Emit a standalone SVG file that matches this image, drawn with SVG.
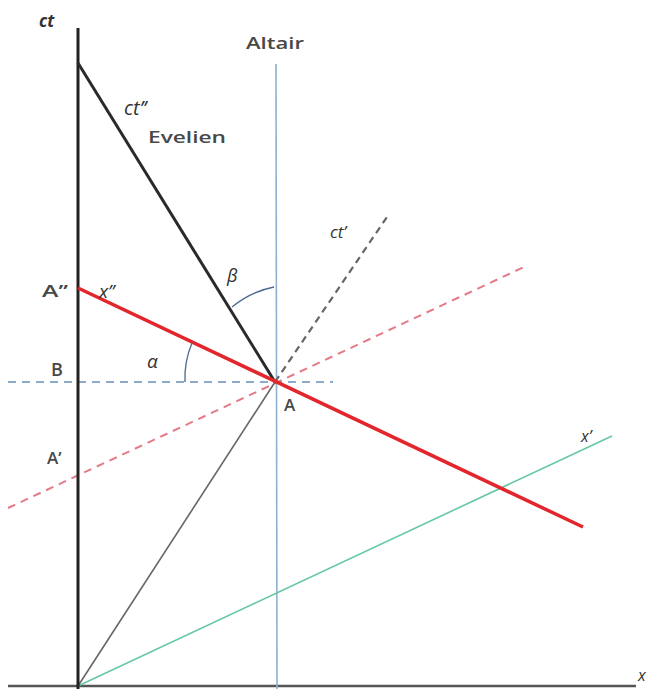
<svg xmlns="http://www.w3.org/2000/svg" width="648" height="689" viewBox="0 0 648 689">
<style>
.lbl{font-family:"Open Sans","Liberation Sans",sans-serif;fill:#484848;font-weight:600}
.it{font-family:"Open Sans","Liberation Sans",sans-serif;fill:#333;font-style:italic}
</style>
<rect width="648" height="689" fill="#fff"/>
<g id="connectors" fill="none">
<line id="x-axis" x1="8" y1="686" x2="636" y2="686" stroke="#555" stroke-width="2.5"/>
<line id="altair-line" x1="276" y1="64" x2="277" y2="689" stroke="#8fb0d0" stroke-width="1.6"/>
<line id="b-dash" x1="8" y1="382" x2="333" y2="382" stroke="#8eaacc" stroke-width="2" stroke-dasharray="8,6"/>
<line id="red-dash" x1="8" y1="508" x2="524" y2="267" stroke="#e47a88" stroke-width="2" stroke-dasharray="8,6"/>
<line id="ctprime" x1="275" y1="382" x2="389" y2="214" stroke="#666" stroke-width="2.2" stroke-dasharray="7,5"/>
<line id="green" x1="78" y1="686" x2="612" y2="436" stroke="#66c8a4" stroke-width="1.6"/>
<line id="gray" x1="78" y1="686" x2="275" y2="382" stroke="#666" stroke-width="1.6"/>
<line id="ct-axis" x1="78" y1="28" x2="78" y2="689" stroke="#222" stroke-width="3"/>
<line id="ctdd" x1="78" y1="63" x2="275" y2="382" stroke="#2a2a2a" stroke-width="3"/>
<line id="red" x1="78" y1="288" x2="583" y2="527" stroke="#e3262c" stroke-width="3.5"/>
<path id="beta-arc" d="M232,307 A95,95 0 0 1 274,287" stroke="#4a6a90" stroke-width="1.3"/>
<path id="alpha-arc" d="M192,343 A90,90 0 0 0 185,382" stroke="#4a6a90" stroke-width="1.3"/>
</g>
<g id="labels">
<text class="it" x="39" y="27" font-size="17" font-weight="bold">ct</text>
<text class="lbl" x="246" y="49" font-size="17" textLength="58" lengthAdjust="spacingAndGlyphs">Altair</text>
<text class="it" x="124" y="115" font-size="20">ct’’</text>
<text class="lbl" x="148" y="143" font-size="17" textLength="78" lengthAdjust="spacingAndGlyphs">Evelien</text>
<text class="it" x="330" y="238" font-size="17">ct’</text>
<text class="it" x="227" y="282" font-size="18">β</text>
<text class="lbl" x="42" y="297" font-size="17" textLength="26" lengthAdjust="spacingAndGlyphs">A’’</text>
<text class="it" x="99" y="298" font-size="19">x’’</text>
<text class="it" x="147" y="368" font-size="19">α</text>
<text class="lbl" x="51" y="376" font-size="18">B</text>
<text class="lbl" x="47" y="464" font-size="17">A’</text>
<text class="lbl" x="284" y="411" font-size="17">A</text>
<text class="it" x="581" y="442" font-size="16">x’</text>
<text class="it" x="638" y="681" font-size="16">x</text>
</g>
</svg>
